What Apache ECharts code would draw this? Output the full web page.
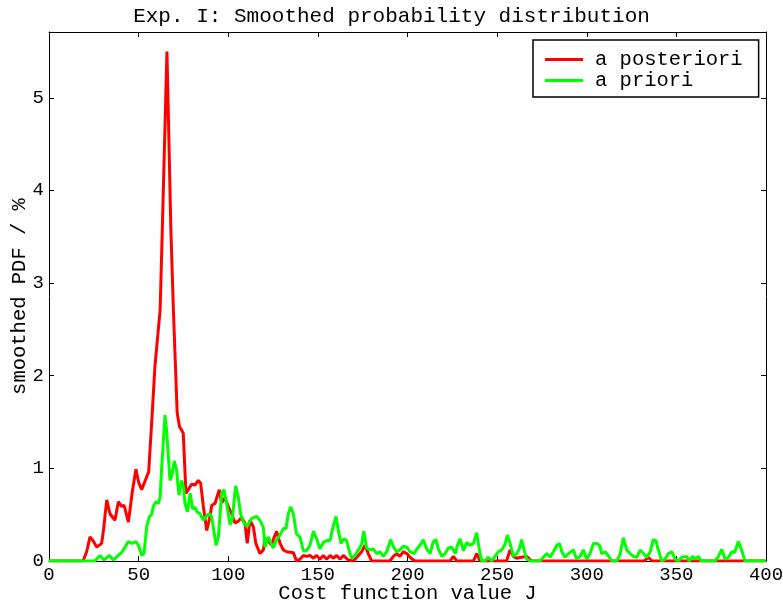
<!DOCTYPE html>
<html>
<head>
<meta charset="utf-8">
<script src="https://cdn.jsdelivr.net/npm/echarts@6/dist/echarts.min.js"></script>
<style>html,body{margin:0;padding:0;background:#fff}#c{width:783px;height:603px}</style>
</head>
<body>
<div id="c"></div>
<script>
const titleText = "Exp. I: Smoothed probability distribution";
const xName = "Cost function value J";
const yName = "smoothed PDF / %";
const seriesNames = ["a posteriori", "a priori"];

const postJ = [0,19,21,22.9,24.5,26.6,29.4,30.5,32.2,34,36.8,38.7,40.5,41.9,44.3,45.2,46.5,48.5,50,51.7,52.6,54.5,55.6,57.3,59.1,62,63.2,65.8,66.3,68,69.4,71.5,72.8,74,74.9,76.4,77.7,79.6,81.4,83.3,84.6,86.1,88,89.5,90.8,92.6,95,96.3,98.2,100,101.9,103.7,105.6,107.5,109.3,110.6,112.1,114,115.4,117.7,119.6,120.5,122.3,124.1,125.5,127,128.9,130.7,132.6,136.3,138.1,140,141.9,143.7,145.6,147.5,149.3,151.2,153,154.9,156.8,158.6,160.5,162.4,164.2,167,169.8,172.6,174.4,176.3,178.1,180,190.2,192.1,194,195.8,197.7,199.6,201.4,204,223.7,225.6,227.5,236.8,238.6,240.5,255.3,257.2,259.1,260.9,263.7,266.5,269.2,332,334.3,336.5,400];
const postV = [0,0,0.1,0.26,0.22,0.15,0.19,0.35,0.66,0.51,0.44,0.64,0.59,0.6,0.42,0.41,0.75,0.99,0.85,0.77,0.77,0.91,0.96,1.5,2.1,2.71,3.57,5.5,5.5,3.57,2.71,1.6,1.45,1.41,1.38,0.73,0.77,0.83,0.82,0.87,0.84,0.59,0.33,0.45,0.6,0.62,0.77,0.63,0.68,0.59,0.51,0.41,0.43,0.47,0.41,0.19,0.44,0.37,0.19,0.08,0.12,0.24,0.22,0.17,0.25,0.32,0.19,0.12,0.1,0.09,0,0.02,0.06,0.05,0.06,0.03,0.06,0.02,0.06,0.02,0.06,0.03,0.06,0.02,0.06,0.01,0,0.06,0.1,0.17,0.08,0,0,0.05,0.08,0.05,0.1,0.08,0.04,0,0,0.05,0,0,0.08,0,0,0.12,0.05,0.03,0.04,0.05,0,0,0.04,0,0];

const priorJ = [0,25.5,28.5,30.6,33.7,35.9,38.7,40.5,42.4,44.3,46.2,47.1,48.5,49.9,51.7,53,54.5,56,57.3,58.2,59.7,61,62,62.9,64.7,65.6,67.5,68.4,69.9,71.2,72.5,73.1,74,75,75.9,77.2,78.7,80.2,81.4,82.7,84.2,86.1,87.9,89.4,90.7,93.2,94.5,96.3,97.6,99.1,101,102.3,104.1,105.6,106.9,108.4,110.3,111.3,113.1,115.9,117.7,119.6,120.5,122.3,123.3,125.1,127,128.9,130.7,132.2,133.5,134.8,136.3,138.1,140,141.9,143.7,145.6,147.5,149.3,151.2,153,154.9,156.8,158.2,160.1,161.4,162.9,164.6,166,167.5,168.8,170.7,172.6,174.4,175.6,177.2,179.1,180.9,182.8,184.7,186.5,188.4,190.6,192.5,194,195.8,197.7,199.6,201.4,203.7,205.2,207,208.8,210.7,212.6,214.4,215.9,217.2,219.1,221,222.8,224.7,226.6,227.9,229.3,231.2,233,234.9,236.8,238.6,240.1,241.4,243.2,245.1,247,248.8,250.7,252.6,254.4,255.7,257.2,259.1,260.9,262.4,263.7,265,266.5,268.4,274,275.8,277.7,279.6,281.4,283.3,284.8,286.1,287.9,289.8,290.7,292.5,294.4,296.3,298.1,300,301.9,303.7,305.6,307.1,308.4,310.3,312.2,314,316.8,318.7,320.4,322.3,324.2,326,327.9,329.8,331.6,333.5,335.4,337.1,338.6,339.9,341.8,343.7,345.5,347.4,349.3,351.1,353,355.8,357.1,359,360.5,362.3,363.8,371.6,373.5,375.3,377.2,379.1,380.9,382.4,384.6,386.5,388.3,400];
const priorV = [0,0,0.06,0.01,0.06,0.01,0.06,0.09,0.15,0.21,0.19,0.17,0.21,0.17,0.06,0.08,0.37,0.48,0.5,0.59,0.64,0.62,0.69,1.02,1.575,1.41,0.87,0.91,1.08,0.98,0.71,0.73,0.87,0.8,0.62,0.53,0.73,0.56,0.58,0.53,0.51,0.44,0.49,0.51,0.48,0.17,0.26,0.73,0.77,0.62,0.39,0.46,0.81,0.69,0.51,0.42,0.37,0.37,0.46,0.48,0.44,0.36,0.15,0.26,0.27,0.14,0.23,0.28,0.35,0.35,0.51,0.585,0.51,0.29,0.26,0.11,0.11,0.17,0.32,0.24,0.13,0.2,0.22,0.22,0.35,0.48,0.33,0.19,0.24,0.22,0.11,0.03,0.06,0.12,0.18,0.32,0.14,0.12,0.13,0.08,0.1,0.05,0.1,0.23,0.14,0.1,0.12,0.16,0.15,0.1,0.08,0.13,0.17,0.23,0.13,0.08,0.21,0.23,0.13,0.05,0.08,0.14,0.15,0.08,0.17,0.24,0.11,0.2,0.17,0.19,0.305,0.12,0,0,0.04,0,0.05,0.1,0.12,0.18,0.28,0.19,0.05,0.08,0.13,0.23,0.12,0.02,0,0,0.04,0.08,0.04,0.1,0.17,0.19,0.1,0.04,0.08,0.1,0.12,0.02,0.05,0.12,0.02,0.08,0.19,0.19,0.17,0.08,0.1,0.05,0,0,0.08,0.25,0.12,0.08,0.05,0.04,0.12,0.08,0.04,0.1,0.23,0.22,0.12,0,0.02,0.08,0.1,0.02,0,0.04,0.05,0,0.05,0.02,0.05,0,0,0.05,0.125,0.02,0.04,0.1,0.09,0.21,0.11,0,0];

const xTicks = [0,50,100,150,200,250,300,350,400];
const yTicks = [0,1,2,3,4,5];

const FONT = "Liberation Mono";
const pair = (a, b) => a.map((x, i) => [x, b[i]]);

const chart = echarts.init(document.getElementById('c'), null, {renderer: 'canvas'});
const axisLineStyle = {show: true, onZero: false, lineStyle: {color: '#000', width: 1}};
const tickStyle = {show: true, inside: true, length: 5, lineStyle: {color: '#000', width: 1}};
chart.setOption({
  backgroundColor: '#fff',
  animation: false,
  title: {
    text: titleText, left: 'center', top: 1,
    textStyle: {fontFamily: FONT, fontSize: 21, fontWeight: 'normal', color: '#000'}
  },
  legend: {
    orient: 'vertical', left: 533, top: 40,
    backgroundColor: '#fff', borderColor: '#000', borderWidth: 1.5,
    padding: [9, 16, 6, 12], itemGap: 0, itemWidth: 38, itemHeight: 3, icon: 'rect',
    textStyle: {fontFamily: FONT, fontSize: 20.5, color: '#000', lineHeight: 19, padding: [0, 0, 0, 7]},
    data: seriesNames
  },
  grid: {left: 49, right: 17, top: 32, bottom: 42, containLabel: false, outerBoundsMode: 'none'},
  xAxis: [{
    type: 'value', min: 0, max: 400, interval: 50, position: 'bottom',
    name: xName, nameLocation: 'middle', nameGap: 22, nameMoveOverlap: false,
    nameTextStyle: {fontFamily: FONT, fontSize: 20.5, color: '#000'},
    axisLine: axisLineStyle, axisTick: tickStyle,
    axisLabel: {fontFamily: FONT, fontSize: 19, color: '#000', margin: 4,
      formatter: v => xTicks.includes(v) ? String(v) : ''},
    splitLine: {show: false}
  }, {
    type: 'value', min: 0, max: 400, interval: 50, position: 'top',
    axisLine: axisLineStyle, axisTick: tickStyle, axisLabel: {show: false}, splitLine: {show: false}
  }],
  yAxis: [{
    type: 'value', min: 0, max: 5.71, interval: 1, position: 'left',
    name: yName, nameLocation: 'middle', nameGap: 19, nameRotate: 90, nameMoveOverlap: false,
    nameTextStyle: {fontFamily: FONT, fontSize: 20.5, color: '#000'},
    axisLine: axisLineStyle, axisTick: tickStyle,
    axisLabel: {fontFamily: FONT, fontSize: 19, color: '#000', margin: 5, showMaxLabel: false,
      formatter: v => yTicks.includes(v) ? String(v) : ''},
    splitLine: {show: false}
  }, {
    type: 'value', min: 0, max: 5.71, interval: 1, position: 'right',
    axisLine: axisLineStyle, axisTick: tickStyle, axisLabel: {show: false}, splitLine: {show: false}
  }],
  series: [{
    name: seriesNames[0], type: 'line', data: pair(postJ, postV),
    showSymbol: false, symbol: 'none', lineStyle: {color: '#ff0000', width: 3}, itemStyle: {color: '#ff0000'}
  }, {
    name: seriesNames[1], type: 'line', data: pair(priorJ, priorV),
    showSymbol: false, symbol: 'none', lineStyle: {color: '#00ff00', width: 3}, itemStyle: {color: '#00ff00'}
  }]
});
</script>
</body>
</html>
